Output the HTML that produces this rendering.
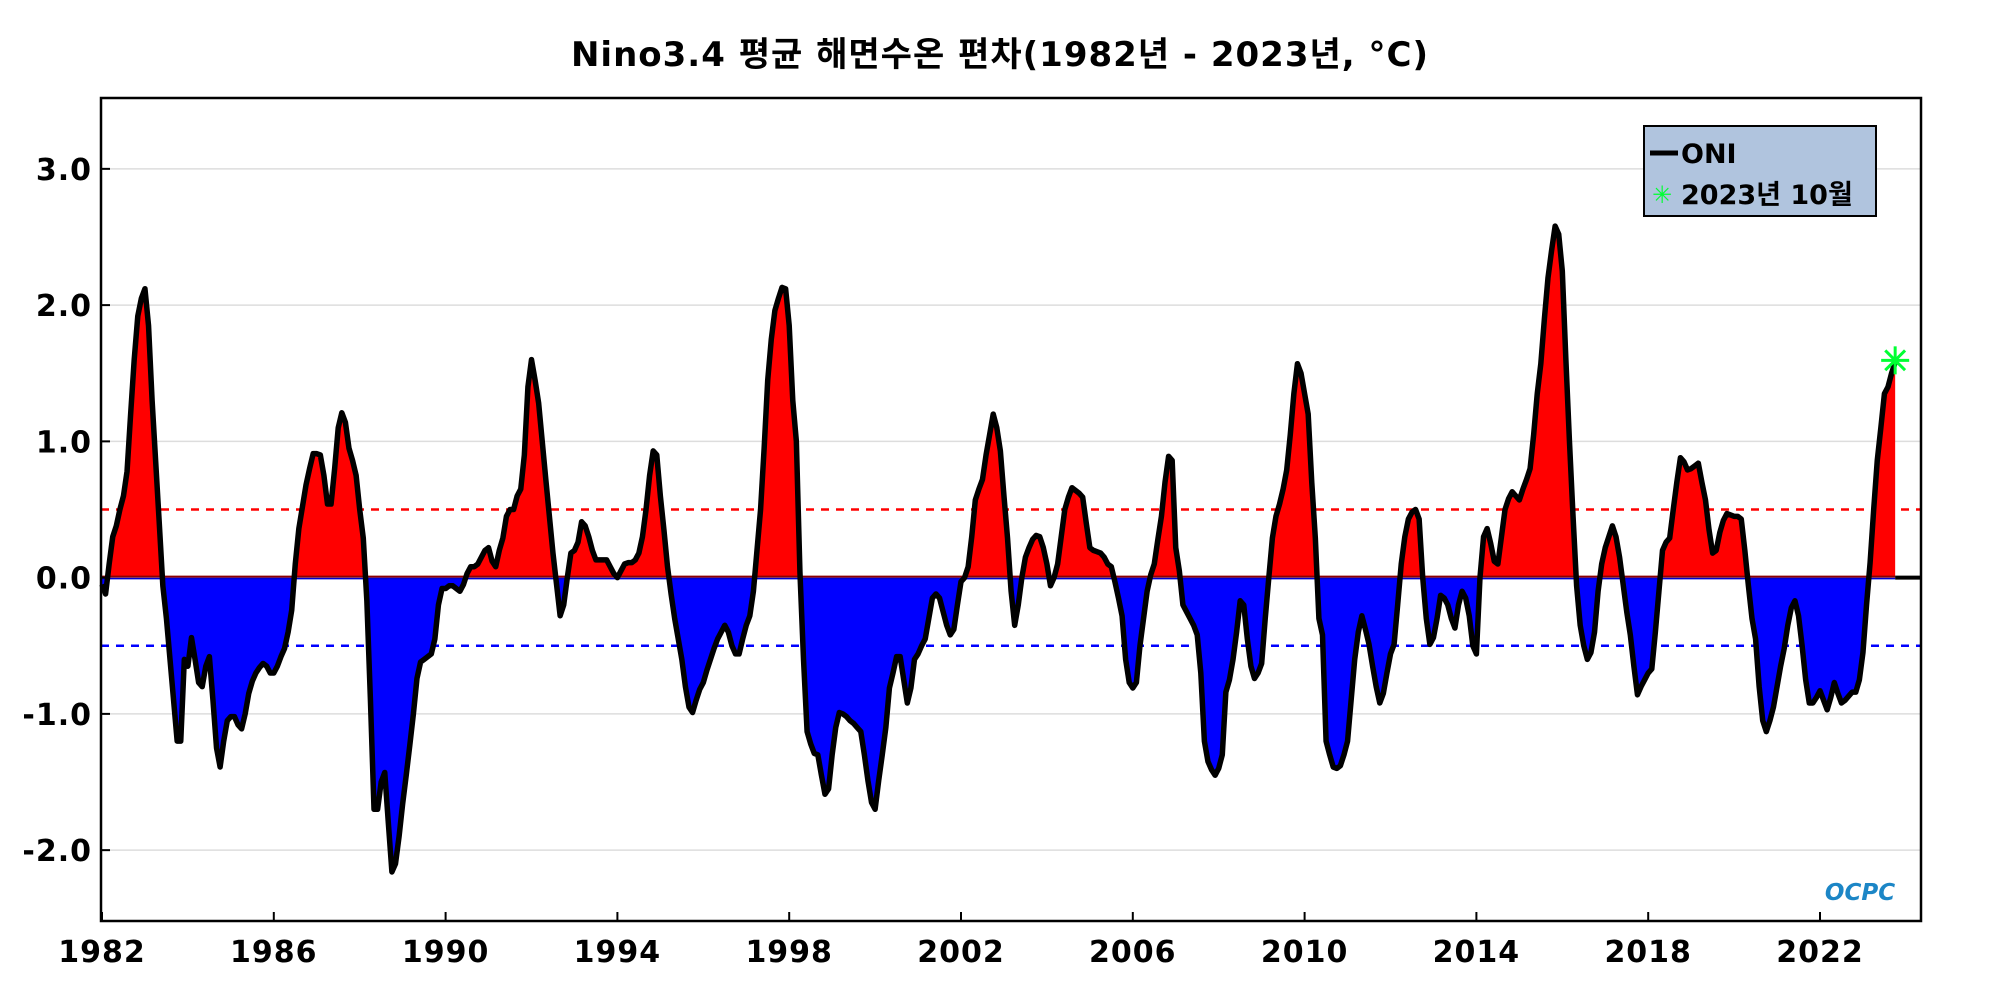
<!DOCTYPE html>
<html><head><meta charset="utf-8">
<style>
html,body{margin:0;padding:0;background:#fff;}
body{width:2000px;height:1000px;overflow:hidden;font-family:"DejaVu Sans","Liberation Sans","Noto Sans CJK KR",sans-serif;}
svg text{font-family:"DejaVu Sans","Liberation Sans","Noto Sans CJK KR",sans-serif;font-weight:bold;}
</style></head>
<body>
<svg id="chart" width="2000" height="1000" xmlns="http://www.w3.org/2000/svg">
<text x="1000" y="66" text-anchor="middle" font-size="34" letter-spacing="1" fill="#000">Nino3.4 평균 해면수온 편차(1982년 - 2023년, °C)</text>
<g id="grid"></g>
<g id="fills"></g>
<g id="refs"></g>
<g id="lines"></g>
<g id="axes"></g>
<g>
<rect x="1644" y="126" width="232" height="90" fill="#b0c4de" stroke="#000" stroke-width="2"/>
<line x1="1650" y1="153" x2="1678" y2="153" stroke="#000" stroke-width="5"/>
<text x="1681" y="163" font-size="27" fill="#000">ONI</text>
<text x="1652" y="203" font-size="24" fill="#00ff33">✳</text>
<text x="1681" y="204" font-size="27" fill="#000">2023년 10월</text>
</g>
<text x="1860" y="900" text-anchor="middle" font-size="23" fill="#1c86c6" font-style="italic">OCPC</text>
</svg>
<script>
const startYear = 1982;
const yTicks = [-2, -1, 0, 1, 2, 3];
const yTickLabels = ["-2.0", "-1.0", "0.0", "1.0", "2.0", "3.0"];
const xTicks = [1982, 1986, 1990, 1994, 1998, 2002, 2006, 2010, 2014, 2018, 2022];
const thresholds = [0.5, -0.5];
const oni = [
-0.05,-0.12,0.1,0.3,0.38,0.5,0.6,0.78,1.2,1.6,1.92,2.05,
2.12,1.85,1.3,0.85,0.4,-0.06,-0.3,-0.6,-0.9,-1.2,-1.2,-0.6,
-0.65,-0.44,-0.6,-0.77,-0.8,-0.65,-0.58,-0.9,-1.25,-1.39,-1.2,-1.05,
-1.02,-1.02,-1.08,-1.11,-1.0,-0.85,-0.76,-0.7,-0.66,-0.63,-0.65,-0.7,
-0.7,-0.65,-0.58,-0.52,-0.4,-0.24,0.1,0.36,0.52,0.68,0.8,0.91,
0.91,0.9,0.75,0.54,0.54,0.8,1.1,1.21,1.14,0.95,0.86,0.75,
0.5,0.29,-0.17,-0.9,-1.7,-1.7,-1.5,-1.43,-1.8,-2.16,-2.1,-1.9,
-1.66,-1.45,-1.23,-1.0,-0.74,-0.62,-0.6,-0.58,-0.56,-0.45,-0.2,-0.08,
-0.08,-0.06,-0.06,-0.08,-0.1,-0.05,0.03,0.08,0.08,0.1,0.15,0.2,
0.22,0.12,0.08,0.2,0.29,0.45,0.5,0.5,0.6,0.65,0.9,1.4,
1.6,1.45,1.28,1.0,0.72,0.45,0.18,-0.05,-0.28,-0.2,0.0,0.18,
0.2,0.26,0.41,0.38,0.3,0.2,0.13,0.13,0.13,0.13,0.08,0.03,
0.0,0.05,0.1,0.11,0.11,0.13,0.18,0.3,0.5,0.75,0.93,0.9,
0.6,0.35,0.08,-0.12,-0.3,-0.45,-0.6,-0.8,-0.95,-0.99,-0.9,-0.82,
-0.77,-0.68,-0.6,-0.52,-0.45,-0.4,-0.35,-0.4,-0.5,-0.56,-0.56,-0.45,
-0.35,-0.28,-0.1,0.2,0.5,0.95,1.45,1.75,1.96,2.05,2.13,2.12,
1.85,1.3,1.0,0.04,-0.6,-1.13,-1.22,-1.29,-1.3,-1.45,-1.59,-1.55,
-1.3,-1.1,-0.99,-1.0,-1.02,-1.05,-1.07,-1.1,-1.13,-1.3,-1.49,-1.65,
-1.7,-1.49,-1.3,-1.1,-0.81,-0.7,-0.58,-0.58,-0.75,-0.92,-0.81,-0.6,
-0.56,-0.5,-0.45,-0.3,-0.15,-0.12,-0.15,-0.25,-0.35,-0.42,-0.38,-0.2,
-0.03,0.0,0.08,0.3,0.57,0.65,0.72,0.9,1.05,1.2,1.1,0.93,
0.6,0.29,-0.1,-0.35,-0.2,0.0,0.15,0.22,0.28,0.31,0.3,0.22,
0.1,-0.06,0.0,0.1,0.3,0.5,0.59,0.66,0.64,0.62,0.59,0.4,
0.22,0.2,0.19,0.18,0.15,0.1,0.08,-0.03,-0.15,-0.28,-0.6,-0.77,
-0.81,-0.77,-0.5,-0.3,-0.1,0.02,0.1,0.28,0.45,0.7,0.89,0.86,
0.22,0.05,-0.2,-0.25,-0.3,-0.35,-0.42,-0.7,-1.2,-1.35,-1.41,-1.45,
-1.4,-1.3,-0.84,-0.75,-0.6,-0.4,-0.17,-0.2,-0.45,-0.65,-0.74,-0.7,
-0.63,-0.3,0.0,0.29,0.45,0.54,0.65,0.79,1.05,1.35,1.57,1.5,
1.35,1.2,0.7,0.29,-0.3,-0.42,-1.2,-1.3,-1.39,-1.4,-1.38,-1.3,
-1.2,-0.9,-0.6,-0.4,-0.28,-0.38,-0.49,-0.65,-0.8,-0.92,-0.85,-0.7,
-0.56,-0.49,-0.2,0.1,0.3,0.43,0.48,0.5,0.43,0.0,-0.3,-0.49,
-0.44,-0.3,-0.13,-0.15,-0.2,-0.3,-0.37,-0.2,-0.1,-0.15,-0.28,-0.5,
-0.56,0.0,0.3,0.36,0.25,0.12,0.1,0.3,0.5,0.58,0.63,0.6,
0.57,0.65,0.72,0.8,1.05,1.35,1.57,1.9,2.2,2.4,2.58,2.52,
2.25,1.6,1.0,0.45,-0.06,-0.35,-0.5,-0.6,-0.55,-0.4,-0.1,0.1,
0.22,0.3,0.38,0.3,0.15,-0.05,-0.25,-0.42,-0.65,-0.86,-0.8,-0.75,
-0.7,-0.67,-0.4,-0.1,0.2,0.26,0.29,0.5,0.7,0.88,0.85,0.79,
0.8,0.82,0.84,0.7,0.57,0.35,0.18,0.2,0.33,0.42,0.47,0.46,
0.45,0.45,0.43,0.2,-0.06,-0.3,-0.45,-0.8,-1.05,-1.13,-1.05,-0.95,
-0.8,-0.65,-0.52,-0.35,-0.22,-0.17,-0.28,-0.5,-0.75,-0.92,-0.92,-0.88,
-0.83,-0.9,-0.97,-0.88,-0.77,-0.85,-0.92,-0.9,-0.87,-0.84,-0.84,-0.75,
-0.55,-0.2,0.11,0.5,0.86,1.1,1.35,1.4,1.5,1.58
];
const plot = {left:101, right:1921, top:98, bottom:921};
const yMin = -2.52, yMax = 3.52;
function xScale(t){ return 102 + (t - startYear) * 42.95; }
function yScale(v){ return plot.top + (yMax - v) / (yMax - yMin) * (plot.bottom - plot.top); }
const NS = "http://www.w3.org/2000/svg";
function mk(tag, attrs, parent){ const e = document.createElementNS(NS, tag); for (const k in attrs) e.setAttribute(k, attrs[k]); parent.appendChild(e); return e; }
const grid = document.getElementById('grid'), fills = document.getElementById('fills'), refs = document.getElementById('refs'), lines = document.getElementById('lines'), axes = document.getElementById('axes');

yTicks.forEach((v, i) => {
  if (v !== 0) {
    const g = mk('line', {x1:plot.left, x2:plot.right, y1:yScale(v), y2:yScale(v), stroke:'#dddddd', 'stroke-width':1.5}, grid);
    
    
  }
  const tk = mk('line', {x1:plot.left, x2:plot.left+9, y1:yScale(v), y2:yScale(v), stroke:'#000', 'stroke-width':2}, axes);
  
  
  const tl = mk('text', {x:92, y:yScale(v)+11, 'text-anchor':'end', 'font-size':30, 'letter-spacing':1, fill:'#000'}, axes);
  tl.textContent = yTickLabels[i];
  
  
});
xTicks.forEach(yr => {
  const tk = mk('line', {x1:xScale(yr), x2:xScale(yr), y1:plot.bottom, y2:plot.bottom-9, stroke:'#000', 'stroke-width':2}, axes);
  
  
  const tl = mk('text', {x:xScale(yr), y:962, 'text-anchor':'middle', 'font-size':30, 'letter-spacing':1, fill:'#000'}, axes);
  tl.textContent = String(yr);
  
  
});

const y0 = yScale(0);
const pts = oni.map((v, i) => [xScale(startYear + i/12), yScale(v)]);
const firstX = pts[0][0], lastX = pts[pts.length-1][0];
let d = `M${firstX},${y0} ` + pts.map(p => `L${p[0]},${p[1]}`).join(' ') + ` L${lastX},${y0} Z`;
const defs = mk('defs', {}, document.getElementById('chart'));
const cpA = mk('clipPath', {id:'above'}, defs); mk('rect', {x:0, y:0, width:2000, height:y0}, cpA);
const cpB = mk('clipPath', {id:'below'}, defs); mk('rect', {x:0, y:y0, width:2000, height:1000}, cpB);
const fa = mk('path', {d:d, fill:'#ff0000', 'clip-path':'url(#above)'}, fills);


const fb = mk('path', {d:d, fill:'#0000ff', 'clip-path':'url(#below)'}, fills);



const zr = mk('line', {x1:plot.left, x2:lastX, y1:y0-1, y2:y0-1, stroke:'#8b0000', 'stroke-width':2}, refs);


const zb = mk('line', {x1:plot.left, x2:lastX, y1:y0+1, y2:y0+1, stroke:'#0000cc', 'stroke-width':1.5}, refs);


const ze = mk('line', {x1:lastX, x2:plot.right, y1:y0, y2:y0, stroke:'#000', 'stroke-width':4}, refs);


thresholds.forEach(v => {
  const l = mk('line', {x1:plot.left, x2:plot.right, y1:yScale(v), y2:yScale(v), stroke: v > 0 ? '#ff0000' : '#0000ff', 'stroke-width':2.5, 'stroke-dasharray':'8,7'}, refs);
  
  
});

const ln = mk('polyline', {points: pts.map(p => p.join(',')).join(' '), fill:'none', stroke:'#000', 'stroke-width':5.5, 'stroke-linejoin':'round'}, lines);



const sx = lastX, sy = pts[pts.length-1][1] - 2;
const star = mk('g', {stroke:'#00ff33', 'stroke-width':3}, lines);


[0, 45, 90, 135].forEach(a => {
  const r = 14, c = Math.cos(a*Math.PI/180)*r, s = Math.sin(a*Math.PI/180)*r;
  mk('line', {x1:sx-c, y1:sy-s, x2:sx+c, y2:sy+s}, star);
});

const frame = mk('rect', {x:plot.left, y:plot.top, width:plot.right-plot.left, height:plot.bottom-plot.top, fill:'none', stroke:'#000', 'stroke-width':2.5}, axes);


</script>
</body></html>
